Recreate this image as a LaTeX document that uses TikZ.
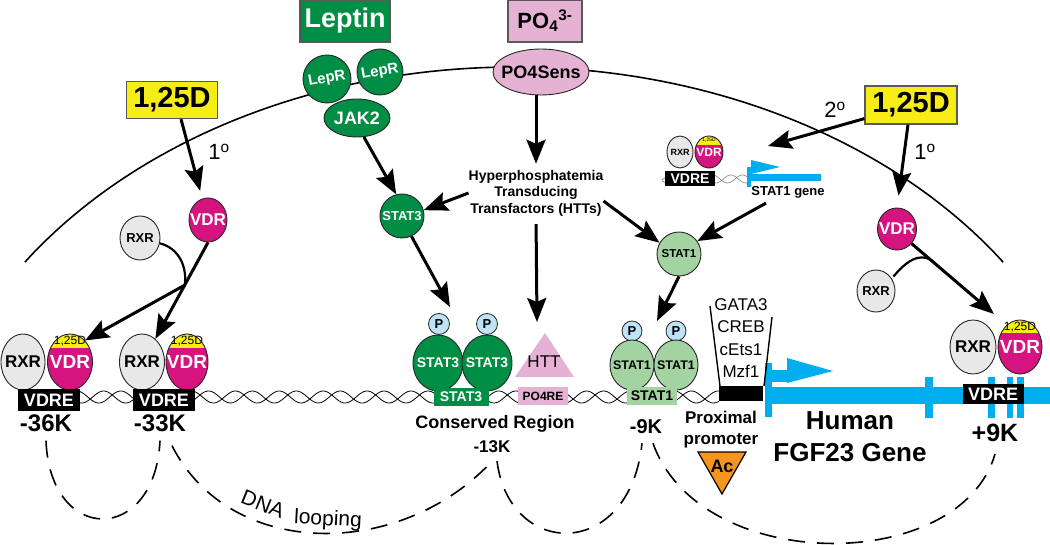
\documentclass[tikz,border=0pt]{standalone}
\usepackage{fontspec}
\setmainfont{Liberation Sans}
\usepackage{tikz}
\usetikzlibrary{arrows.meta,shapes.geometric,calc}

\definecolor{dkgreen}{RGB}{0,142,69}
\definecolor{ltgreen}{RGB}{163,211,160}
\definecolor{vdrmag}{RGB}{213,20,128}
\definecolor{rxrgray}{RGB}{232,232,232}
\definecolor{capyel}{RGB}{246,236,22}
\definecolor{popink}{RGB}{229,178,212}
\definecolor{pblue}{RGB}{190,226,246}
\definecolor{genblue}{RGB}{0,174,239}
\definecolor{acorange}{RGB}{247,148,30}

\newcommand{\fsz}[1]{\fontsize{#1}{#1}\selectfont}

\begin{document}
\begin{tikzpicture}[x=1pt,y=-1pt,
  arr/.style={line width=3pt,-{Stealth[length=24pt,width=19pt,inset=4pt]}},
  loopline/.style={line width=1.6pt,dash pattern=on 17pt off 12pt},
  ball/.style={ellipse,draw=black!85,line width=0.9pt,inner sep=-12pt},
  rxr/.style={ball,fill=rxrgray,font=\bfseries\fsz{#1}},
  vdr/.style={ball,fill=vdrmag,text=white,font=\bfseries\fsz{#1}},
  cap/.style={path picture={\fill[capyel] (path picture bounding box.north west) rectangle ([yshift=-#1]path picture bounding box.north east);}},
  captext/.style={inner sep=0pt,font=\fsz{#1}},
  sthree/.style={ball,fill=dkgreen,text=white,font=\bfseries\fsz{#1}},
  sone/.style={ball,fill=ltgreen,font=\bfseries\fsz{#1}},
  pball/.style={circle,draw=black!85,line width=0.8pt,fill=pblue,inner sep=0pt,minimum size=21pt,font=\bfseries\fsz{13}},
  tag/.style={rectangle,inner sep=0pt,font=\bfseries\fsz{#1}},
  ligand/.style={rectangle,draw=black!65,line width=1.2pt,inner sep=0pt,font=\bfseries\fsz{#1}},
  degree/.style={inner sep=0pt,font=\fsz{22}}]
\useasboundingbox (0,0) rectangle (1050,545);

% cell membrane
\draw[line width=1.6pt] plot[domain=34.7:145.3,samples=90] ({514+595*cos(\x)},{520-453*sin(\x)});

% DNA strands
\draw[line width=0.8pt] plot[domain=80:719,samples=400] (\x,{397+6*sin(8.2*\x)});
\draw[line width=0.8pt] plot[domain=80:719,samples=400] (\x,{397+6*sin(8.2*\x+140)});
\draw[gray,line width=0.6pt] plot[domain=662:748,samples=120] (\x,{179+4*sin(12*\x)});
\draw[gray,line width=0.6pt] plot[domain=662:748,samples=120] (\x,{179+4*sin(12*\x+140)});

% FGF23 gene
\fill[genblue] (772,387) rectangle (1050,404);
\fill[genblue] (765,363) rectangle (772,417);
\fill[genblue] (772,370) rectangle (790,382);
\fill[genblue] (787,358) -- (833,371) -- (787,383) -- cycle;
\foreach \a/\b in {925/933,988/995,1007/1013,1017/1024}
  \fill[genblue] (\a,377) rectangle (\b,418);

% STAT1 gene
\fill[genblue] (750,174) rectangle (821,181);
\fill[genblue] (747,167) rectangle (751,187);
\fill[genblue] (751,160) -- (780,167) -- (751,174) -- cycle;

% proximal promoter
\fill (719,386) rectangle (763,401);
\draw[line width=1.4pt] (710,306) -- (720,386) (772,317) -- (764,386);
\node[inner sep=0pt,align=center,font=\fontsize{17}{22.2}\selectfont] (tfs) at (741,338) {GATA3\\CREB\\cEts1\\Mzf1};
\draw[fill=acorange,line width=1.2pt] (698,452) -- (746,452) -- (722,494) -- cycle;
\node[tag=18] (ac) at (722,466) {Ac};

% HTT
\fill[popink] (515,377) -- (545,333) -- (574,377) -- cycle;
\node[inner sep=0pt,font=\fsz{17}] (httl) at (544,362) {HTT};

% ligands and receptors
\node[ligand=27,fill=dkgreen,text=white,minimum width=90pt,minimum height=42pt] (leptin) at (345,21) {Leptin};
\node[ligand=22,fill=popink,minimum width=74pt,minimum height=42pt] (po4) at (545,21) {PO\textsubscript{4}\textsuperscript{3-}};
\node[ligand=29,fill=capyel,minimum width=91pt,minimum height=37pt] (d1L) at (172,100) {1,25D};
\node[ligand=29,fill=capyel,minimum width=92pt,minimum height=38pt] (d1R) at (911,105) {1,25D};
\node[sthree=18,minimum width=66pt,minimum height=38pt] (jak2) at (357,118) {JAK2};
\node[sthree=15,minimum width=48pt,minimum height=48pt,rotate=10] (lepr1) at (327,79) {LepR};
\node[sthree=15,minimum width=46pt,minimum height=46pt,rotate=10] (lepr2) at (380,72) {LepR};
\node[ball,fill=popink,font=\bfseries\fsz{18},minimum width=96pt,minimum height=46pt] (po4sens) at (541,72) {PO4Sens};

% free receptors
\node[vdr=17,minimum width=38pt,minimum height=44pt] (vdrL) at (208,220) {VDR};
\node[rxr=13,minimum width=40pt,minimum height=44pt] (rxrL) at (140,238) {RXR};
\node[vdr=17,minimum width=39pt,minimum height=42pt] (vdrR) at (897,229) {VDR};
\node[rxr=13,minimum width=38pt,minimum height=42pt] (rxrR) at (876,291) {RXR};

% -36K and -33K
\node[rxr=17,minimum width=44pt,minimum height=56pt] (rxr36) at (23,362) {RXR};
\node[vdr=19,cap=14pt,minimum width=45pt,minimum height=56pt] (vdr36) at (70,362) {VDR};
\node[captext=12] (c36) at (70,341) {1,25D};
\node[tag=18,fill=black,text=white,minimum width=62pt,minimum height=21pt] (vdre36) at (49,400) {VDRE};
\node[tag=24] (k36) at (46,423) {-36K};
\node[rxr=17,minimum width=45pt,minimum height=56pt] (rxr33) at (142,362) {RXR};
\node[vdr=19,cap=14pt,minimum width=42pt,minimum height=56pt] (vdr33) at (187,362) {VDR};
\node[captext=12] (c33) at (187,341) {1,25D};
\node[tag=18,fill=black,text=white,minimum width=62pt,minimum height=21pt] (vdre33) at (164,400) {VDRE};
\node[tag=24] (k33) at (160,423) {-33K};

% conserved region
\node[sthree=13,minimum size=44pt] (stat3) at (402,216) {STAT3};
\node[pball] (pa3) at (439,324) {P};
\node[pball] (pb3) at (487,324) {P};
\draw[line width=0.8pt] (pa3.south) -- +(0,6) (pb3.south) -- +(0,6);
\node[sthree=14,minimum width=50pt,minimum height=56pt] (stat3a) at (438,363) {STAT3};
\node[sthree=14,minimum width=50pt,minimum height=56pt] (stat3b) at (487,363) {STAT3};
\node[tag=14,fill=dkgreen,text=white,minimum width=55pt,minimum height=18pt] (s3box) at (461,397) {STAT3};
\node[tag=12,fill=popink,minimum width=50pt,minimum height=18pt] (po4re) at (543,396) {PO4RE};
\node[tag=18] (cons) at (495,424) {Conserved Region};
\node[tag=17] (k13) at (492,447) {-13K};
\node[inner sep=0pt,align=center,font=\bfseries\fontsize{14}{16.5}\selectfont] (htts) at (536,193) {Hyperphosphatemia\\Transducing\\Transfactors (HTTs)};

% -9K
\node[sone=11.5,minimum size=44pt] (stat1) at (679,254) {STAT1};
\node[pball,minimum size=20pt] (pa1) at (632,331) {P};
\node[pball,minimum size=20pt] (pb1) at (676,331) {P};
\draw[line width=0.8pt] (pa1.south) -- +(0,6) (pb1.south) -- +(0,6);
\node[sone=12.5,minimum width=44pt,minimum height=50pt] (stat1a) at (632,365) {STAT1};
\node[sone=12.5,minimum width=44pt,minimum height=50pt] (stat1b) at (676,365) {STAT1};
\node[tag=14,fill=ltgreen,minimum width=50pt,minimum height=18pt] (s1box) at (652,396) {STAT1};
\node[tag=20] (k9) at (646,427) {-9K};
\node[tag=17,align=center,font=\bfseries\fontsize{17}{21}\selectfont] (prox) at (721,430) {Proximal\\promoter};
\node[tag=26,align=center,font=\bfseries\fontsize{26}{32}\selectfont] (human) at (850,437) {Human\\FGF23 Gene};

% STAT1 gene complex
\node[rxr=9,minimum width=26pt,minimum height=32pt] (srxr) at (680,152) {RXR};
\node[vdr=12,cap=9pt,minimum width=28pt,minimum height=32pt] (svdr) at (709,152) {VDR};
\node[captext=5] (sc) at (709,140) {1,25D};
\node[tag=14,fill=black,text=white,minimum width=50pt,minimum height=15pt] (svdre) at (690,179) {VDRE};
\node[tag=13] (sgene) at (788,192) {STAT1 gene};

% +9K
\node[rxr=17,minimum width=46pt,minimum height=54pt] (rxr9) at (973,347) {RXR};
\node[vdr=19,cap=13pt,minimum width=44pt,minimum height=54pt] (vdr9) at (1020,347) {VDR};
\node[captext=12] (c9) at (1020,327) {1,25D};
\node[tag=18,fill=black,text=white,minimum width=61pt,minimum height=19pt] (vdre9) at (993,394) {VDRE};
\node[tag=25] (k9p) at (995,433) {+9K};

% arrow tips and joins
\coordinate (jL) at (185,285);
\coordinate (jR) at (935,263);
\coordinate (t3) at (450,307);
\coordinate (t1) at (657,321);
\coordinate (th) at (537,322);
\coordinate (tg) at (768,146);
\coordinate (t9) at (994,314);

% signalling arrows
\draw[arr,shorten >=8pt] ([xshift=9pt]d1L.south) -- (vdrL.105);
\node[degree] (o1L) at (219,152) {1\textsuperscript{o}};
\draw[arr] (vdrL.south) -- (rxr33.60);
\draw[line width=2.2pt] (rxrL.-15) .. controls (178,248) and (187,265) .. (jL);
\draw[arr] (jL) -- (vdr36.55);
\draw[arr] (jak2.-70) -- (stat3.105);
\draw[arr] (stat3.-65) -- (t3);
\draw[arr,shorten >=6pt] (po4sens.south -| htts.north) -- (htts.north);
\draw[arr] (htts.west) -- (stat3.15);
\draw[arr,shorten <=8pt] (htts.south) -- (th);
\draw[arr] ([yshift=-8pt]htts.east) -- (stat1.150);
\draw[arr] (stat1.south) -- (t1);
\draw[arr,shorten >=12pt] ([xshift=-3pt]d1R.south) -- (vdrR.north);
\node[degree] (o1R) at (925,152) {1\textsuperscript{o}};
\draw[arr] ([yshift=6pt]d1R.south west) -- (tg);
\node[degree] (o2R) at (835,110) {2\textsuperscript{o}};
\draw[arr] ([xshift=-22pt,yshift=-5pt]sgene.south) -- (stat1.35);
\draw[arr] (vdrR.-45) -- (t9);
\draw[line width=2.2pt] ([xshift=3pt]rxrR.45) .. controls (912,254) and (925,254) .. (jR);

% DNA looping
\draw[loopline] ([yshift=-9pt]k36.south) .. controls (50,545) and (155,545) .. ([yshift=-9pt]k33.south);
\draw[loopline] ([xshift=12pt,yshift=-14pt]k33.south) .. controls (230,560) and (400,560) .. ([yshift=-8pt]k13.south);
\node[inner sep=0pt,font=\fsz{21},rotate=-22] (dna) at (263,504) {DNA};
\node[inner sep=0pt,font=\fsz{21},rotate=-3] (looping) at (328,520) {looping};
\draw[loopline] ([xshift=5pt,yshift=-8pt]k13.south) .. controls (510,560) and (630,560) .. ([xshift=-4pt,yshift=-9pt]k9.south);
\draw[loopline] ([xshift=7pt,yshift=-9pt]k9.south) .. controls (700,575) and (960,575) .. ([yshift=-12pt]k9p.south);
\end{tikzpicture}
\end{document}
